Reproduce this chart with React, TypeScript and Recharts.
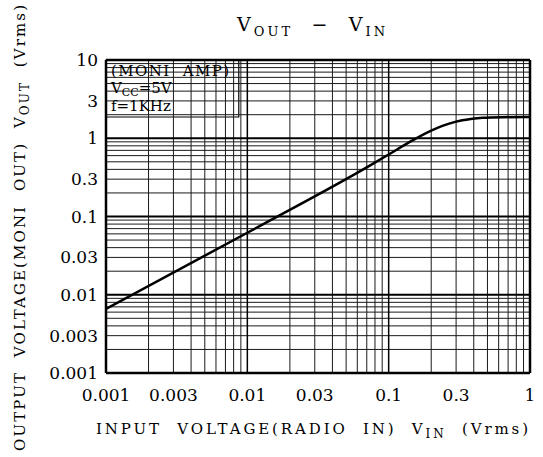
import { LineChart, Line, XAxis, YAxis, ReferenceLine, ReferenceArea } from 'recharts';

// input voltage (Vrms) and monitor output voltage (Vrms)
const vin = [0.001, 0.01, 0.074, 0.1, 0.14, 0.17, 0.2, 0.24, 0.3, 0.38, 0.46, 0.65, 1];
const vout = [0.0066, 0.062, 0.45, 0.62, 0.89, 1.08, 1.25, 1.44, 1.63, 1.76, 1.83, 1.86, 1.87];

const xTicks = [0.001, 0.003, 0.01, 0.03, 0.1, 0.3, 1];
const yTicks = [0.001, 0.003, 0.01, 0.03, 0.1, 0.3, 1, 3, 10];

const xDecades = [0.001, 0.01, 0.1];
const yDecades = [0.001, 0.01, 0.1, 1];
const multipliers = [2, 3, 4, 5, 6, 7, 8, 9];

const data = vin.map((v, i) => ({ vin: v, vout: vout[i] }));

const minor = (decades: number[]) =>
    decades.flatMap(d => multipliers.map(m => +(d * m).toPrecision(3)));

const xMinor = minor(xDecades);
const yMinor = minor(yDecades);
const xMajor = [0.01, 0.1];
const yMajor = [0.01, 0.1, 1];

const font = "'DejaVu Serif', serif";
const tickStyle = { fontFamily: font, fontSize: 17, fill: '#000' };
const sp = '\u00A0';

export default function App() {
    return (
        <div style={{ position: 'absolute', left: 0, top: 0, width: 543, height: 457, background: '#fff' }}>
            <LineChart width={543} height={457} data={data} margin={{ top: 60, right: 13, bottom: 54, left: 0 }}>
                <XAxis
                    dataKey="vin"
                    type="number"
                    scale="log"
                    domain={[0.001, 1]}
                    ticks={xTicks}
                    allowDataOverflow
                    axisLine={false}
                    tickLine={false}
                    tickMargin={10}
                    height={30}
                    tick={tickStyle}
                    interval={0}
                />
                <YAxis
                    type="number"
                    scale="log"
                    domain={[0.001, 10]}
                    ticks={yTicks}
                    allowDataOverflow
                    axisLine={false}
                    tickLine={false}
                    width={106}
                    tick={tickStyle}
                    interval={0}
                />
                {xMinor.map(v => (
                    <ReferenceLine key={'xm' + v} x={v} stroke="#1a1a1a" strokeWidth={1} />
                ))}
                {yMinor.map(v => (
                    <ReferenceLine key={'ym' + v} y={v} stroke="#1a1a1a" strokeWidth={1} />
                ))}
                {xMajor.map(v => (
                    <ReferenceLine key={'xM' + v} x={v} stroke="#000" strokeWidth={1.5} />
                ))}
                {yMajor.map(v => (
                    <ReferenceLine key={'yM' + v} y={v} stroke="#000" strokeWidth={2} />
                ))}
                <ReferenceArea x1={0.001} x2={0.0087} y1={1.87} y2={10} fill="#fff" fillOpacity={1} stroke="#000" strokeOpacity={1} strokeWidth={1.2} />
                <ReferenceLine x={0.001} stroke="#000" strokeWidth={2.5} />
                <ReferenceLine x={1} stroke="#000" strokeWidth={2.5} />
                <ReferenceLine y={0.001} stroke="#000" strokeWidth={2.5} />
                <ReferenceLine y={10} stroke="#000" strokeWidth={2.5} />
                <Line
                    type="monotone"
                    dataKey="vout"
                    stroke="#000"
                    strokeWidth={2.5}
                    dot={false}
                    isAnimationActive={false}
                />
            </LineChart>
            <svg width={543} height={457} style={{ position: 'absolute', left: 0, top: 0, pointerEvents: 'none' }}>
                <g fontFamily={font} fill="#000">
                    <text x={311} y={31} textAnchor="middle" fontSize={19} textLength={148} lengthAdjust="spacing">
                        V<tspan fontSize={13} dy={5}>OUT</tspan>
                        <tspan dy={-5}>{sp + sp + '−' + sp + sp + 'V'}</tspan>
                        <tspan fontSize={13} dy={5}>IN</tspan>
                    </text>
                    <text x={111} y={76} fontSize={15} textLength={118} lengthAdjust="spacing">{'(MONI' + sp + sp + 'AMP)'}</text>
                    <text x={111} y={93} fontSize={15}>
                        V<tspan fontSize={11} dy={3}>CC</tspan>
                        <tspan dy={-3}>=5V</tspan>
                    </text>
                    <text x={111} y={111} fontSize={15}>f=1KHz</text>
                    <text x={312} y={434} textAnchor="middle" fontSize={15} textLength={432} lengthAdjust="spacing">
                        {'INPUT' + sp + sp + 'VOLTAGE(RADIO' + sp + sp + 'IN)' + sp + sp + 'V'}
                        <tspan fontSize={12} dy={4}>IN</tspan>
                        <tspan dy={-4}>{sp + sp + '(Vrms)'}</tspan>
                    </text>
                    <text
                        transform="translate(25,228) rotate(-90)"
                        textAnchor="middle"
                        fontSize={15}
                        textLength={446}
                        lengthAdjust="spacing"
                    >
                        {'OUTPUT' + sp + sp + 'VOLTAGE(MONI' + sp + sp + 'OUT)' + sp + sp + 'V'}
                        <tspan fontSize={12} dy={4}>OUT</tspan>
                        <tspan dy={-4}>{sp + sp + '(Vrms)'}</tspan>
                    </text>
                </g>
            </svg>
        </div>
    );
}
